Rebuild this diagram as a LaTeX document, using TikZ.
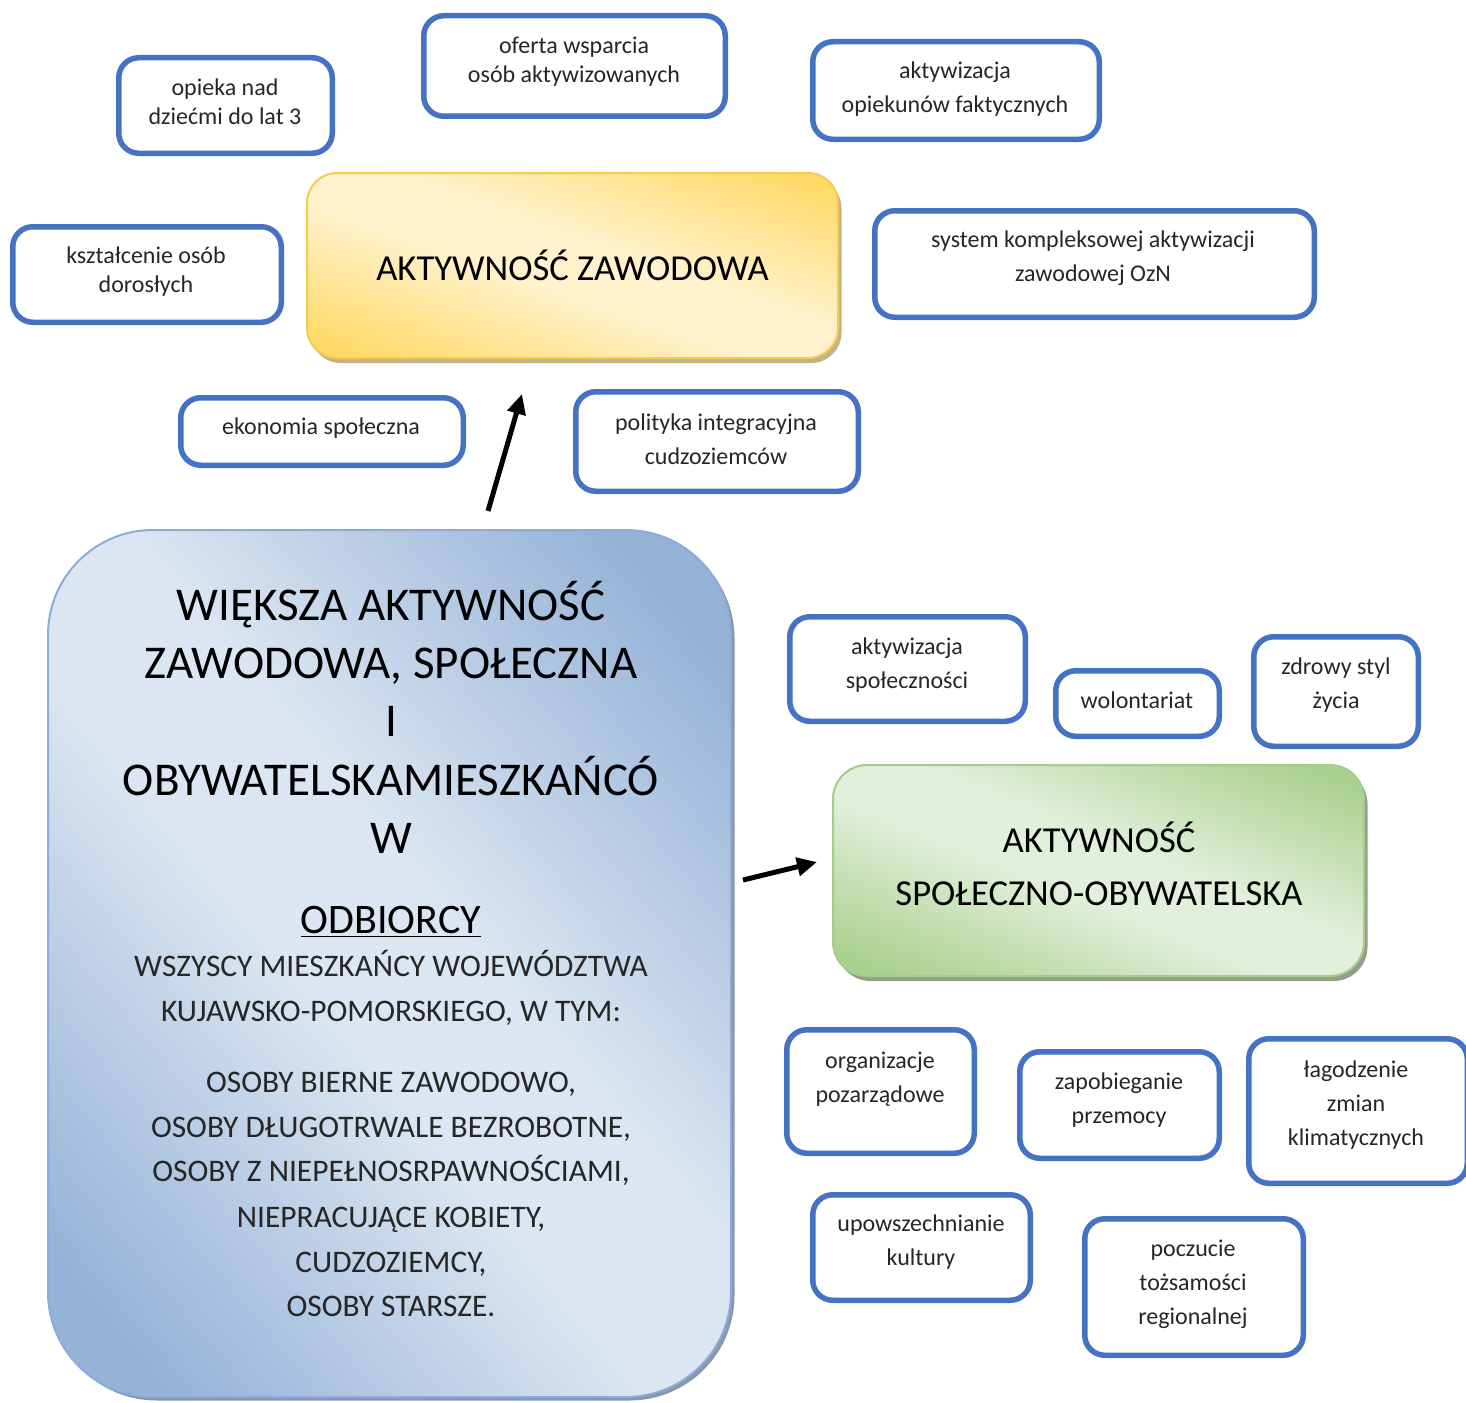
\documentclass[tikz,border=0pt]{standalone}
\usepackage{fontspec}
\setmainfont{Carlito}
\usetikzlibrary{arrows.meta,shadows}
\definecolor{boxblue}{HTML}{4472C4}
\definecolor{gold}{HTML}{FFD966}
\definecolor{cream}{HTML}{FFF2CC}
\definecolor{goldline}{HTML}{F6CB52}
\definecolor{tanshadow}{HTML}{C2B489}
\definecolor{bdark}{HTML}{95B3D7}
\definecolor{blight}{HTML}{DCE6F2}
\definecolor{bline}{HTML}{8EAADB}
\definecolor{bshadow}{HTML}{8797AD}
\definecolor{gdark}{HTML}{A9D18E}
\definecolor{glight}{HTML}{E2EFDA}
\definecolor{gline}{HTML}{A4CD89}
\definecolor{gshadow}{HTML}{939F8A}
\definecolor{txtgray}{HTML}{262626}
\pgfdeclareverticalshading{yshade}{100bp}{color(0bp)=(gold); color(21bp)=(gold); color(45bp)=(cream); color(55bp)=(cream); color(79bp)=(gold); color(100bp)=(gold)}
\pgfdeclareverticalshading{gshade}{100bp}{color(0bp)=(gdark); color(21bp)=(gdark); color(45bp)=(glight); color(55bp)=(glight); color(79bp)=(gdark); color(100bp)=(gdark)}
\pgfdeclareverticalshading{bshade}{100bp}{color(0bp)=(bdark); color(21bp)=(bdark); color(45bp)=(blight); color(55bp)=(blight); color(79bp)=(bdark); color(100bp)=(bdark)}
\begin{document}
\begin{tikzpicture}[x=0.5pt,y=-0.5pt,
  smallbox/.style={draw=boxblue, line width=2.75pt, rounded corners=10pt, fill=white, inner sep=0pt},
  smalltxt/.style={align=center, font=\fontsize{12}{17}\selectfont, text=txtgray, inner sep=0pt},
  tighttxt/.style={smalltxt, font=\fontsize{12}{14.5}\selectfont},
  arr/.style={line width=2.5pt, -{Triangle[length=10pt,width=9pt]}},
  yellowbox/.style={draw=goldline, line width=1pt, rounded corners=15pt,
    drop shadow={shadow xshift=1.75pt, shadow yshift=-2.5pt, fill=tanshadow, opacity=1},
    shade, shading=yshade, shading angle=-19, inner sep=0pt},
  greenbox/.style={draw=gline, line width=1pt, rounded corners=17pt,
    drop shadow={shadow xshift=1.75pt, shadow yshift=-2.5pt, fill=gshadow, opacity=1},
    shade, shading=gshade, shading angle=-22, inner sep=0pt},
  bluebox/.style={draw=bline, line width=1pt, rounded corners=52.5pt,
    drop shadow={shadow xshift=1.75pt, shadow yshift=-1.75pt, fill=bshadow, opacity=1},
    shade, shading=bshade, shading angle=-50, inner sep=0pt},
  bigtxt/.style={font=\fontsize{18.3}{26.5}\selectfont, align=center, inner sep=0pt},
  titletxt/.style={font=\fontsize{23.5}{29}\selectfont, anchor=base, inner sep=0pt},
  headtxt/.style={font=\fontsize{21}{25}\selectfont, anchor=base, inner sep=0pt},
  bodytxt/.style={font=\fontsize{15.7}{22.5}\selectfont, text=txtgray, anchor=base, inner sep=0pt}
]
\useasboundingbox (0,0) rectangle (1466,1402);

% big colored nodes
\node[yellowbox, minimum width=265.5pt, minimum height=92.5pt] (zaw) at (572.5,265.5)
  {\fontsize{18.3}{22}\selectfont AKTYWNOŚĆ ZAWODOWA};
\node[greenbox, minimum width=265.5pt, minimum height=105.5pt] (spo) at (1098.5,870.5) {};
\node[bigtxt] (spot) at (1099,864) {AKTYWNOŚĆ\\SPOŁECZNO-OBYWATELSKA};
\node[bluebox, minimum width=341.5pt, minimum height=433.5pt] (big) at (389.5,963.5) {};

% text of the blue node
\node[titletxt] (l1) at (391,620) {WIĘKSZA AKTYWNOŚĆ};
\node[titletxt] (l2) at (391,678) {ZAWODOWA, SPOŁECZNA};
\node[titletxt] (l3) at (391,736) {I};
\node[titletxt] (l4) at (391,795) {OBYWATELSKAMIESZKAŃCÓ};
\node[titletxt] (l5) at (391,853) {W};
\node[headtxt] (l6) at (391,933) {\underline{ODBIORCY}};
\node[bodytxt] (l7) at (391,976) {WSZYSCY MIESZKAŃCY WOJEWÓDZTWA};
\node[bodytxt] (l8) at (391,1021) {KUJAWSKO-POMORSKIEGO, W TYM:};
\node[bodytxt] (l9) at (391,1092) {OSOBY BIERNE ZAWODOWO,};
\node[bodytxt] (l10) at (391,1137) {OSOBY DŁUGOTRWALE BEZROBOTNE,};
\node[bodytxt] (l11) at (391,1181) {OSOBY Z NIEPEŁNOSRPAWNOŚCIAMI,};
\node[bodytxt] (l12) at (391,1227) {NIEPRACUJĄCE KOBIETY,};
\node[bodytxt] (l13) at (391,1272) {CUDZOZIEMCY,};
\node[bodytxt] (l14) at (391,1316) {OSOBY STARSZE.};

% small boxes
\node[smallbox, minimum width=106.75pt, minimum height=47.75pt] (b1) at (225.5,105.5) {};
\node[tighttxt] (t1) at (225,102) {opieka nad\\dziećmi do lat 3};
\node[smallbox, minimum width=150.75pt, minimum height=50.25pt] (b2) at (574.5,66) {};
\node[tighttxt] (t2) at (574,61.5) {oferta wsparcia\\osób aktywizowanych};
\node[smallbox, minimum width=143.25pt, minimum height=48.75pt] (b3) at (956,90.5) {};
\node[smalltxt] (t3) at (955,89) {aktywizacja\\opiekunów faktycznych};
\node[smallbox, minimum width=134.25pt, minimum height=47.75pt] (b4) at (147,274.5) {};
\node[tighttxt] (t4) at (146,271.5) {kształcenie osób\\dorosłych};
\node[smallbox, minimum width=219.75pt, minimum height=53.25pt] (b5) at (1094.5,264) {};
\node[smalltxt] (t5) at (1093,258) {system kompleksowej aktywizacji\\zawodowej OzN};
\node[smallbox, minimum width=141.25pt, minimum height=33.75pt] (b6) at (322,431.5) {};
\node[smalltxt] (t6) at (321,428) {ekonomia społeczna};
\node[smallbox, minimum width=141.25pt, minimum height=49.75pt] (b7) at (717,441.5) {};
\node[smalltxt] (t7) at (716,439.5) {polityka integracyjna\\cudzoziemców};
\node[smallbox, minimum width=117.75pt, minimum height=52.25pt] (b8) at (907.5,669) {};
\node[smalltxt] (t8) at (907,665) {aktywizacja\\społeczności};
\node[smallbox, minimum width=81.75pt, minimum height=32.75pt] (b9) at (1137.5,703.5) {};
\node[smalltxt] (t9) at (1137,700) {wolontariat};
\node[smallbox, minimum width=82.25pt, minimum height=54.75pt] (b10) at (1336,691.5) {};
\node[smalltxt] (t10) at (1336,685) {zdrowy styl\\życia};
\node[smallbox, minimum width=93.75pt, minimum height=61.75pt] (b11) at (880.5,1091.5) {};
\node[smalltxt] (t11) at (880,1079) {organizacje\\pozarządowe};
\node[smallbox, minimum width=99.75pt, minimum height=53.25pt] (b12) at (1119.5,1105) {};
\node[smalltxt] (t12) at (1119,1100) {zapobieganie\\przemocy};
\node[smallbox, minimum width=109.25pt, minimum height=72.25pt] (b13) at (1358,1111) {};
\node[smalltxt] (t13) at (1356,1105) {łagodzenie\\zmian\\klimatycznych};
\node[smallbox, minimum width=108.75pt, minimum height=52.75pt] (b14) at (921.5,1247.5) {};
\node[smalltxt] (t14) at (921,1242) {upowszechnianie\\kultury};
\node[smallbox, minimum width=109.25pt, minimum height=68.25pt] (b15) at (1194,1287) {};
\node[smalltxt] (t15) at (1193,1284.5) {poczucie\\tożsamości\\regionalnej};

% arrows
\draw[arr] ([xshift=49.25pt,yshift=9pt]big.north) -- ([xshift=-25.25pt,yshift=-17.5pt]zaw.south);
\draw[arr] ([xshift=5.5pt,yshift=41.75pt]big.east) -- ([xshift=-7.5pt,yshift=4.25pt]spo.west);
\end{tikzpicture}
\end{document}
